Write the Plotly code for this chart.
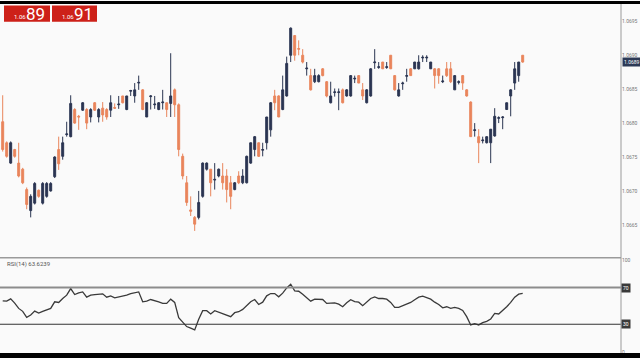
import plotly.graph_objects as go

# ---------------- data ----------------
opens = [1.06802, 1.06771, 1.06741, 1.06761, 1.06741, 1.06732, 1.06702, 1.06671, 1.06682, 1.06701,
         1.06682, 1.06692, 1.06700, 1.06721, 1.06761, 1.06751, 1.06783, 1.06780, 1.06820, 1.06810,
         1.06819, 1.06820, 1.06809, 1.06830, 1.06809, 1.06822, 1.06820, 1.06819, 1.06823, 1.06827,
         1.06840, 1.06820, 1.06847, 1.06840, 1.06859, 1.06849, 1.06809, 1.06839, 1.06827, 1.06820,
         1.06830, 1.06830, 1.06829, 1.06849, 1.06827, 1.06751, 1.06712, 1.06672, 1.06661, 1.06661,
         1.06692, 1.06732, 1.06732, 1.06716, 1.06722, 1.06722, 1.06722, 1.06712, 1.06702, 1.06722,
         1.06712, 1.06712, 1.06741, 1.06761, 1.06771, 1.06760, 1.06771, 1.06790, 1.06840, 1.06840,
         1.06820, 1.06840, 1.06900, 1.06929, 1.06910, 1.06900, 1.06880, 1.06870, 1.06861, 1.06861,
         1.06880, 1.06861, 1.06830, 1.06845, 1.06845, 1.06849, 1.06840, 1.06840, 1.06865, 1.06870,
         1.06849, 1.06830, 1.06840, 1.06889, 1.06882, 1.06890, 1.06882, 1.06900, 1.06870, 1.06840,
         1.06858, 1.06869, 1.06880, 1.06880, 1.06880, 1.06896, 1.06896, 1.06880, 1.06880, 1.06880,
         1.06861, 1.06880, 1.06880, 1.06849, 1.06860, 1.06870, 1.06849, 1.06831, 1.06789, 1.06780,
         1.06774, 1.06771, 1.06771, 1.06781, 1.06807, 1.06808, 1.06820, 1.06840, 1.06859, 1.06870,
         1.06900]
highs = [1.06841, 1.06773, 1.06773, 1.06762, 1.06771, 1.06734, 1.06705, 1.06695, 1.06713, 1.06702,
         1.06713, 1.06713, 1.06713, 1.06751, 1.06780, 1.06780, 1.06802, 1.06841, 1.06822, 1.06812,
         1.06831, 1.06822, 1.06822, 1.06831, 1.06822, 1.06831, 1.06822, 1.06841, 1.06829, 1.06840,
         1.06840, 1.06840, 1.06849, 1.06859, 1.06870, 1.06850, 1.06831, 1.06841, 1.06840, 1.06831,
         1.06849, 1.06830, 1.06903, 1.06851, 1.06829, 1.06755, 1.06722, 1.06692, 1.06663, 1.06700,
         1.06742, 1.06742, 1.06732, 1.06741, 1.06733, 1.06741, 1.06732, 1.06722, 1.06713, 1.06729,
         1.06732, 1.06752, 1.06771, 1.06781, 1.06771, 1.06771, 1.06809, 1.06831, 1.06849, 1.06841,
         1.06870, 1.06898, 1.06941, 1.06929, 1.06922, 1.06909, 1.06890, 1.06880, 1.06880, 1.06872,
         1.06881, 1.06862, 1.06861, 1.06851, 1.06851, 1.06851, 1.06850, 1.06870, 1.06870, 1.06870,
         1.06859, 1.06850, 1.06881, 1.06909, 1.06890, 1.06890, 1.06890, 1.06900, 1.06870, 1.06859,
         1.06861, 1.06880, 1.06881, 1.06890, 1.06900, 1.06900, 1.06900, 1.06890, 1.06881, 1.06881,
         1.06870, 1.06890, 1.06890, 1.06870, 1.06863, 1.06870, 1.06850, 1.06832, 1.06800, 1.06791,
         1.06780, 1.06780, 1.06791, 1.06822, 1.06810, 1.06810, 1.06830, 1.06850, 1.06890, 1.06890,
         1.06900]
lows = [1.06758, 1.06749, 1.06740, 1.06749, 1.06720, 1.06710, 1.06673, 1.06661, 1.06680, 1.06690,
        1.06680, 1.06690, 1.06699, 1.06719, 1.06731, 1.06746, 1.06780, 1.06779, 1.06799, 1.06790,
        1.06818, 1.06791, 1.06801, 1.06818, 1.06801, 1.06802, 1.06805, 1.06809, 1.06821, 1.06821,
        1.06829, 1.06819, 1.06840, 1.06830, 1.06849, 1.06819, 1.06809, 1.06820, 1.06821, 1.06819,
        1.06820, 1.06809, 1.06809, 1.06809, 1.06751, 1.06717, 1.06678, 1.06663, 1.06641, 1.06658,
        1.06690, 1.06730, 1.06692, 1.06702, 1.06720, 1.06702, 1.06683, 1.06673, 1.06701, 1.06710,
        1.06710, 1.06711, 1.06740, 1.06751, 1.06750, 1.06751, 1.06761, 1.06780, 1.06819, 1.06809,
        1.06819, 1.06839, 1.06890, 1.06892, 1.06900, 1.06888, 1.06870, 1.06848, 1.06859, 1.06860,
        1.06869, 1.06838, 1.06829, 1.06839, 1.06819, 1.06829, 1.06839, 1.06839, 1.06859, 1.06859,
        1.06834, 1.06829, 1.06839, 1.06880, 1.06880, 1.06880, 1.06880, 1.06880, 1.06848, 1.06839,
        1.06849, 1.06861, 1.06870, 1.06880, 1.06879, 1.06890, 1.06890, 1.06880, 1.06851, 1.06858,
        1.06859, 1.06868, 1.06859, 1.06849, 1.06857, 1.06849, 1.06839, 1.06780, 1.06780, 1.06741,
        1.06770, 1.06770, 1.06741, 1.06780, 1.06800, 1.06791, 1.06820, 1.06810, 1.06849, 1.06861,
        1.06889]
closes = [1.06761, 1.06751, 1.06771, 1.06751, 1.06722, 1.06712, 1.06680, 1.06692, 1.06711, 1.06692,
          1.06711, 1.06711, 1.06711, 1.06750, 1.06740, 1.06771, 1.06784, 1.06829, 1.06800, 1.06809,
          1.06830, 1.06800, 1.06820, 1.06819, 1.06820, 1.06812, 1.06809, 1.06830, 1.06822, 1.06828,
          1.06830, 1.06840, 1.06848, 1.06849, 1.06860, 1.06820, 1.06830, 1.06840, 1.06828, 1.06830,
          1.06831, 1.06820, 1.06840, 1.06827, 1.06761, 1.06722, 1.06683, 1.06670, 1.06651, 1.06683,
          1.06741, 1.06741, 1.06712, 1.06717, 1.06732, 1.06712, 1.06702, 1.06692, 1.06712, 1.06712,
          1.06722, 1.06751, 1.06771, 1.06780, 1.06751, 1.06761, 1.06809, 1.06830, 1.06830, 1.06809,
          1.06849, 1.06888, 1.06940, 1.06900, 1.06909, 1.06890, 1.06881, 1.06849, 1.06870, 1.06870,
          1.06870, 1.06840, 1.06840, 1.06846, 1.06846, 1.06830, 1.06849, 1.06870, 1.06866, 1.06859,
          1.06840, 1.06849, 1.06880, 1.06890, 1.06883, 1.06880, 1.06883, 1.06880, 1.06849, 1.06849,
          1.06859, 1.06870, 1.06870, 1.06890, 1.06890, 1.06897, 1.06897, 1.06890, 1.06870, 1.06870,
          1.06862, 1.06870, 1.06861, 1.06870, 1.06861, 1.06859, 1.06840, 1.06780, 1.06790, 1.06771,
          1.06775, 1.06780, 1.06791, 1.06810, 1.06808, 1.06809, 1.06830, 1.06849, 1.06880, 1.06890,
          1.06890]
rsi = [55.6, 55.2, 57.7, 53.1, 47.3, 44.1, 37.6, 40.1, 44.4, 42.2,
       44.1, 45.9, 47.3, 54.5, 53.8, 58.1, 61.7, 68.9, 62.4, 64.2,
       65.3, 59.5, 61.7, 62.4, 62.4, 63.2, 59.5, 61.0, 58.8, 59.9,
       60.3, 61.7, 63.5, 64.6, 65.3, 54.5, 55.2, 57.0, 55.9, 54.5,
       52.7, 52.7, 57.4, 53.8, 37.2, 32.2, 27.5, 25.7, 23.9, 35.4,
       44.8, 44.8, 41.2, 44.8, 43.0, 41.2, 39.4, 38.3, 42.6, 43.7,
       46.2, 50.9, 54.5, 57.0, 51.6, 54.1, 61.0, 63.5, 63.5, 59.9,
       63.9, 69.6, 73.6, 66.4, 66.0, 62.8, 58.8, 55.2, 57.4, 57.4,
       57.0, 52.7, 52.7, 53.4, 52.0, 49.1, 53.4, 56.7, 54.8, 54.1,
       50.2, 53.8, 58.1, 59.9, 58.1, 58.1, 57.4, 53.8, 48.4, 48.4,
       50.2, 52.3, 53.8, 56.7, 59.5, 60.6, 58.8, 57.4, 54.1, 51.6,
       48.0, 49.1, 47.3, 48.4, 47.3, 45.1, 38.3, 29.3, 30.7, 29.3,
       31.8, 33.2, 35.8, 41.9, 41.2, 44.8, 49.1, 53.8, 59.5, 62.8,
       63.6239]
price_ticks = [1.0665, 1.0670, 1.0675, 1.0680, 1.0685, 1.0690, 1.0695]
rsi_levels = [70, 30]
top_quotes = [("1.06", "89"), ("1.06", "91")]

idx = list(range(len(closes)))

W, H = 640, 360
def py(p):  # pixel -> paper y
    return 1 - p / H

UP = "#2b3552"
DN = "#e9855c"
BG = "#fafafa"
FONT = "Roboto"
AX_X = 621 / W

fig = go.Figure()
fig.add_trace(go.Candlestick(
    x=idx, open=opens, high=highs, low=lows, close=closes,
    increasing=dict(line=dict(color=UP, width=1), fillcolor=UP),
    decreasing=dict(line=dict(color=DN, width=1), fillcolor=DN),
    whiskerwidth=0, xaxis="x", yaxis="y", showlegend=False, hoverinfo="skip"))
fig.add_trace(go.Scatter(
    x=idx, y=rsi, mode="lines", line=dict(color="#3a3a3a", width=1.3),
    xaxis="x2", yaxis="y2", showlegend=False, hoverinfo="skip"))

xr = [-0.675, 154.575]
fig.update_layout(
    width=W, height=H, margin=dict(l=0, r=0, t=0, b=0),
    paper_bgcolor=BG, plot_bgcolor=BG,
    font=dict(family=FONT, color="#777", size=5),
    boxgap=0.3,
    xaxis=dict(domain=[0, AX_X], range=xr, visible=False, rangeslider=dict(visible=False), anchor="y"),
    xaxis2=dict(domain=[0, AX_X], range=xr, visible=False, anchor="y2", matches="x"),
    yaxis=dict(domain=[py(258), py(3)], range=[1.066028, 1.069756], side="right", anchor="x",
               tickvals=price_ticks, ticktext=[f"{t:.4f}" for t in price_ticks],
               tickfont=dict(size=5, color="#777", family=FONT), showgrid=False, zeroline=False,
               showline=False, ticks=""),
    yaxis2=dict(domain=[py(355), py(259)], range=[-1.35, 102.4], side="right", anchor="x2",
                tickvals=[0, 100], ticktext=["0", "100"],
                tickfont=dict(size=5, color="#777", family=FONT), showgrid=False, zeroline=False,
                showline=False, ticks=""),
)

shapes = []
# RSI level lines
shapes.append(dict(type="line", xref="paper", yref="y2", x0=0, x1=AX_X, y0=rsi_levels[0], y1=rsi_levels[0],
                   line=dict(color="#8c8c8c", width=2)))
shapes.append(dict(type="line", xref="paper", yref="y2", x0=0, x1=AX_X, y0=rsi_levels[1], y1=rsi_levels[1],
                   line=dict(color="#333333", width=1.2)))
# panel separator
shapes.append(dict(type="line", xref="paper", yref="paper", x0=0, x1=AX_X, y0=py(259), y1=py(259),
                   line=dict(color="#9a9a9a", width=1.5)))
# right axis line
shapes.append(dict(type="line", xref="paper", yref="paper", x0=AX_X, x1=AX_X, y0=py(355), y1=py(3),
                   line=dict(color="#9a9a9a", width=1)))
# black bars
shapes.append(dict(type="rect", xref="paper", yref="paper", x0=0, x1=1, y0=py(3), y1=1,
                   fillcolor="#000", line=dict(width=0), layer="above"))
shapes.append(dict(type="rect", xref="paper", yref="paper", x0=0, x1=1, y0=0, y1=py(355),
                   fillcolor="#000", line=dict(width=0), layer="above"))
# quote boxes
box_x = [(4, 50), (52, 97)]
for (x0, x1) in box_x:
    shapes.append(dict(type="rect", xref="paper", yref="paper", x0=x0 / W, x1=x1 / W,
                       y0=py(21), y1=py(4.5), fillcolor="#cd2119", line=dict(width=0), layer="above"))
fig.update_layout(shapes=shapes)

ann = []
for (x0, x1), (small, big) in zip(box_x, top_quotes):
    ann.append(dict(xref="paper", yref="paper", x=(x0 + 8) / W, y=py(15.8), text=small,
                    xanchor="left", yanchor="middle", showarrow=False,
                    font=dict(size=6, color="white", family=FONT)))
    ann.append(dict(xref="paper", yref="paper", x=(x0 + 20) / W, y=py(12.8), text=big,
                    xanchor="left", yanchor="middle", showarrow=False,
                    font=dict(size=17, color="white", family=FONT)))
# current price label
ann.append(dict(xref="paper", yref="y", x=622 / W, y=closes[-1], text=f"{closes[-1]:.4f}",
                xanchor="left", yanchor="middle", showarrow=False, bgcolor="#2d3a56",
                borderpad=1, font=dict(size=5, color="white", family=FONT)))
# RSI level labels
for lv in rsi_levels:
    ann.append(dict(xref="paper", yref="y2", x=621 / W, y=lv, text=str(lv),
                    xanchor="left", yanchor="middle", showarrow=False, bgcolor="#3a3a3a",
                    borderpad=1, font=dict(size=5, color="white", family=FONT)))
# RSI title
ann.append(dict(xref="paper", yref="paper", x=5 / W, y=py(265), text=f"RSI(14) {rsi[-1]:.4f}",
                xanchor="left", yanchor="middle", showarrow=False,
                font=dict(size=6, color="#555", family=FONT)))
fig.update_layout(annotations=ann)

fig.write_html("out.html")
